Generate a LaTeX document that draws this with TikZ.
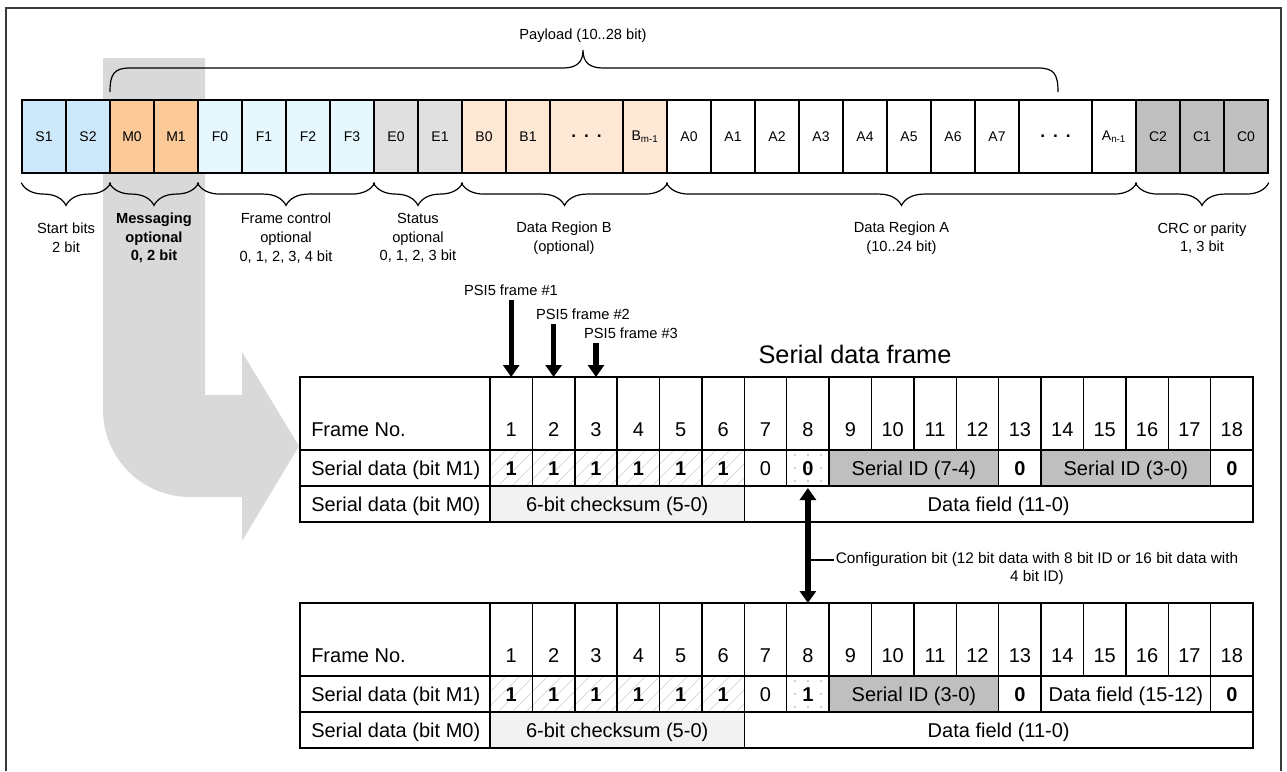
\documentclass[tikz,border=0pt]{standalone}
\usepackage{fontspec}
\setmainfont{Liberation Sans}
\usepackage{tikz}
\usetikzlibrary{decorations.pathreplacing,arrows.meta,calc}

\definecolor{startblue}{HTML}{CCE8FA}
\definecolor{msgorange}{HTML}{FCCA98}
\definecolor{frameblue}{HTML}{E6F7FE}
\definecolor{statgray}{HTML}{E0E0E0}
\definecolor{regbpeach}{HTML}{FDE8D5}
\definecolor{crcgray}{HTML}{BFBFBF}
\definecolor{bandgray}{HTML}{D9D9D9}
\definecolor{idgray}{HTML}{BFBFBF}
\definecolor{chkgray}{HTML}{F2F2F2}
\definecolor{hatchgray}{HTML}{CCCCCC}
\definecolor{framegray}{HTML}{3A3A3A}

\newcommand{\celldots}{{\fontsize{13}{14}\selectfont\textbf{.\hspace{6pt}.\hspace{6pt}.}}}

\begin{document}
\begin{tikzpicture}[x=0.75pt,y=-0.75pt]
\tikzstyle{bitcell}=[draw,line width=1.1pt,minimum width=33pt,minimum height=54.75pt,inner sep=0pt,font=\fontsize{10.5}{12}\selectfont]
\tikzstyle{widecell}=[bitcell,minimum width=54.75pt]
\tikzstyle{bracelbl}=[align=center,font=\fontsize{11}{14}\selectfont]
\tikzstyle{curly}=[decorate,decoration={brace,mirror,amplitude=17pt},line width=0.9pt]
\tikzstyle{tabline}=[line width=1.1pt]
\tikzstyle{tabtxt}=[anchor=base,inner sep=0pt,font=\fontsize{15}{18}\selectfont]
\tikzstyle{tabbold}=[tabtxt,font=\fontsize{15}{18}\selectfont\bfseries]
\tikzstyle{psilbl}=[font=\fontsize{11}{13}\selectfont]
\tikzstyle{bigarrow}=[line width=4pt,-{Triangle[width=12pt,length=9pt]}]
\tikzstyle{dblarrow}=[line width=4pt,{Triangle[width=12pt,length=9pt]}-{Triangle[width=12pt,length=9pt]}]
\useasboundingbox (0,0) rectangle (1287,771);

% grey arrow behind the messaging bits
\fill[bandgray] (103,58) -- (205,58) -- (205,395) -- (242,395) -- (242,352) -- (299,446)
  -- (242,541) -- (242,497) -- (190,497) .. controls (142,497) and (103,458) .. (103,410) -- cycle;
\draw[line width=1.1pt,framegray] (6,771) -- (6,8) -- (1281,8) -- (1281,771);

% frame bits
\foreach \name/\xc/\col in {
	S1/44/startblue,
	S2/88/startblue,
	M0/132/msgorange,
	M1/176/msgorange,
	F0/220/frameblue,
	F1/264/frameblue,
	F2/308/frameblue,
	F3/352/frameblue,
	E0/396/statgray,
	E1/440/statgray,
	B0/484/regbpeach,
	B1/528/regbpeach,
	A0/689/white,
	A1/733/white,
	A2/777/white,
	A3/821/white,
	A4/865/white,
	A5/909/white,
	A6/953/white,
	A7/997/white,
	C2/1158/crcgray,
	C1/1202/crcgray,
	C0/1246/crcgray}
	\node[bitcell,fill=\col] (\name) at (\xc,136.5) {\name};
\node[widecell,fill=regbpeach] (Bd) at (586.5,136.5) {\celldots};
\node[bitcell,fill=regbpeach] (Bm) at (645,136.5) {B\textsubscript{m-1}};
\node[widecell,fill=white] (Ad) at (1055.5,136.5) {\celldots};
\node[bitcell,fill=white] (An) at (1114,136.5) {A\textsubscript{n-1}};

% payload brace
\draw[line width=0.9pt] (110,92) .. controls (110,74) and (114,68) .. (130,68) -- (563,68)
  .. controls (577,68) and (583,62) .. (583,50) .. controls (583,62) and (589,68) .. (603,68)
  -- (1038,68) .. controls (1054,68) and (1058,74) .. (1058,92);
\node[bracelbl] (payload) at (583,36) {Payload (10..28 bit)};

% field braces
\draw[curly] ([yshift=-6.75pt]S1.south west) -- ([yshift=-6.75pt]S2.south east);
\draw[curly] ([yshift=-6.75pt]M0.south west) -- ([yshift=-6.75pt]M1.south east);
\draw[curly] ([yshift=-6.75pt]F0.south west) -- ([yshift=-6.75pt]F3.south east);
\draw[curly] ([yshift=-6.75pt]E0.south west) -- ([yshift=-6.75pt]E1.south east);
\draw[curly] ([yshift=-6.75pt]B0.south west) -- ([yshift=-6.75pt]Bm.south east);
\draw[curly] ([yshift=-6.75pt]A0.south west) -- ([yshift=-6.75pt]An.south east);
\draw[curly] ([yshift=-6.75pt]C2.south west) -- ([yshift=-6.75pt]C0.south east);
\node[bracelbl] (lstart) at (66,238) {Start bits\\2 bit};
\node[bracelbl,font=\fontsize{11}{14}\selectfont\bfseries] (lmsg) at (154,238) {Messaging\\optional\\0, 2 bit};
\node[bracelbl] (lfrm) at (286,238) {Frame control\\optional\\0, 1, 2, 3, 4 bit};
\node[bracelbl] (lstat) at (418,238) {Status\\optional\\0, 1, 2, 3 bit};
\node[bracelbl] (lregb) at (564,238) {Data Region B\\(optional)};
\node[bracelbl] (lrega) at (901.5,238) {Data Region A\\(10..24 bit)};
\node[bracelbl] (lcrc) at (1202,238) {CRC or parity\\1, 3 bit};

% serial data frame tables
\node[font=\fontsize{19}{22}\selectfont] (title) at (855,354) {Serial data frame};
\foreach \T/\tb in {377/a,603/b}{
	\fill[chkgray] (490,\T+109) rectangle (744.34,\T+145);
	\begin{scope}
		\clip (490,\T+73) rectangle (744.34,\T+109);
		\foreach \hx in {456,470,...,750}
			\draw[hatchgray,line width=0.5pt] (\hx,\T+109) -- (\hx+36,\T+73);
	\end{scope}
	\foreach \dx in {795,808,821}
		\foreach \dy in {5,18,31}
			\fill[crcgray] (\dx,\T+73+\dy) circle (0.9pt);
	\fill[idgray] (829.12,\T+73) rectangle (998.68,\T+109);
	\draw[tabline] (300,\T) rectangle (1253,\T+145);
	\draw[tabline] (300,\T+73) -- (1253,\T+73);
	\draw[tabline] (300,\T+109) -- (1253,\T+109);
	\draw[tabline] (490,\T) -- (490,\T+145);
	\foreach \j in {1,...,17}
		\draw[tabline] ({490+\j*42.39},\T) -- ({490+\j*42.39},\T+73);
	\foreach \j in {1,2,3,4,5,6,7,8,12,13,17}
		\draw[tabline] ({490+\j*42.39},\T+73) -- ({490+\j*42.39},\T+109);
	\draw[tabline] (744.34,\T+109) -- (744.34,\T+145);
	\node[tabtxt,anchor=base west] (\tb fn) at (311,\T+59) {Frame No.};
	\foreach \i in {1,...,18}
		\node[tabtxt] (\tb n\i) at ({490+(\i-0.5)*42.39},\T+59) {\i};
	\node[tabtxt,anchor=base west] (\tb mone) at (311,\T+98) {Serial data (bit M1)};
	\node[tabtxt,anchor=base west] (\tb mzero) at (311,\T+134) {Serial data (bit M0)};
	\foreach \i in {1,...,6}
		\node[tabbold] (\tb b\i) at ({490+(\i-0.5)*42.39},\T+98) {1};
	\node[tabtxt] (\tb b7) at (765.5,\T+98) {0};
	\node[tabbold] (\tb b13) at (1019.9,\T+98) {0};
	\node[tabbold] (\tb b18) at (1231.8,\T+98) {0};
	\node[tabtxt] (\tb chk) at (617.17,\T+134) {6-bit checksum (5-0)};
	\node[tabtxt] (\tb dat) at (998.68,\T+134) {Data field (11-0)};
}
\fill[idgray] (1041.07,450) rectangle (1210.63,486);
\draw[tabline] (1041.07,450) -- (1041.07,486) (1210.63,450) -- (1210.63,486) (1041.07,450) -- (1210.63,450) (1041.07,486) -- (1210.63,486);
\node[tabbold] (ab8) at (807.9,475) {0};
\node[tabtxt] (aidhi) at (913.9,475) {Serial ID (7-4)};
\node[tabtxt] (aidlo) at (1125.85,475) {Serial ID (3-0)};
\node[tabbold] (bb8) at (807.9,701) {1};
\node[tabtxt] (bid) at (913.9,701) {Serial ID (3-0)};
\node[tabtxt] (bdat) at (1125.85,701) {Data field (15-12)};

% PSI5 frames
\node[psilbl] (psi1) at (511,290) {PSI5 frame \#1};
\node[psilbl] (psi2) at (583,314) {PSI5 frame \#2};
\node[psilbl] (psi3) at (631,333) {PSI5 frame \#3};
\coordinate (top1) at (511.2,377);
\coordinate (top2) at (553.6,377);
\coordinate (top3) at (596,377);
\draw[bigarrow] (psi1.south -| top1) -- (top1);
\draw[bigarrow] (psi2.south -| top2) -- (top2);
\draw[bigarrow] (psi3.south -| top3) -- (top3);

% configuration bit
\coordinate (cfgtop) at (807.9,488);
\coordinate (cfgbot) at (807.9,603);
\coordinate (cfgtick) at (807.9,560);
\draw[dblarrow] (cfgtop) -- (cfgbot);
\node[align=center,anchor=north,inner sep=1pt,font=\fontsize{11.5}{13.5}\selectfont] (cfg) at (1037,551) {Configuration bit (12 bit data with 8 bit ID or 16 bit data with\\4 bit ID)};
\draw[line width=1.5pt] (cfgtick) -- (cfgtick -| cfg.west);
\end{tikzpicture}
\end{document}
